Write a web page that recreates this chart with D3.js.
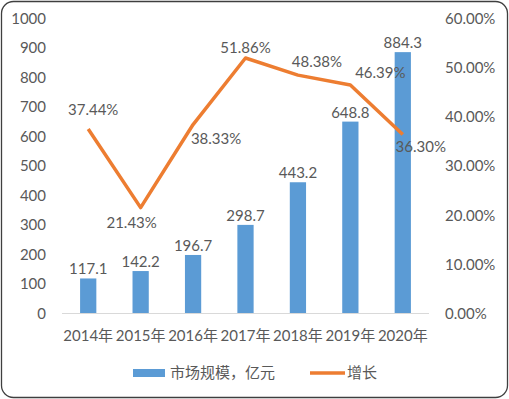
<!DOCTYPE html>
<html>
<head>
<meta charset="utf-8">
<script src="https://cdn.jsdelivr.net/npm/d3@7"></script>
<style>
  body { margin: 0; background: #fff; }
  svg text { font-family: Lato, "Noto Sans CJK SC", sans-serif; fill: #595959; }
</style>
</head>
<body>
<script>
// chart data
var years = ["2014年", "2015年", "2016年", "2017年", "2018年", "2019年", "2020年"];
var marketSize = [117.1, 142.2, 196.7, 298.7, 443.2, 648.8, 884.3];
var growth = [0.3744, 0.2143, 0.3833, 0.5186, 0.4838, 0.4639, 0.3630];
var leftTicks = [0, 100, 200, 300, 400, 500, 600, 700, 800, 900, 1000];
var rightTicks = [0, 0.1, 0.2, 0.3, 0.4, 0.5, 0.6];
var seriesNames = ["市场规模，亿元", "增长"];

// where each growth label sits relative to its point
var growthLabelOffset = [[5, -14], [-9, 20], [23, 19], [0, -5], [19, -8], [30, -7], [18, 17]];

var W = 509, H = 399;
var plot = {left: 62, right: 429, top: 18, bottom: 313};

var svg = d3.select("body").append("svg")
    .attr("width", W)
    .attr("height", H);

// outer frame
svg.append("rect")
    .attr("x", 1.5).attr("y", 1.5)
    .attr("width", W - 3).attr("height", H - 3)
    .attr("rx", 12)
    .attr("fill", "#fff")
    .attr("stroke", "#3f3f3f")
    .attr("stroke-width", 1.3);

//Define Scales
var xScale = d3.scaleBand()
    .domain(years)
    .range([plot.left, plot.right])
    .paddingInner(0.69)
    .paddingOuter(0.345);

var yLeft = d3.scaleLinear().domain([0, 1000]).range([plot.bottom, plot.top]);
var yRight = d3.scaleLinear().domain([0, 0.6]).range([plot.bottom, plot.top]);

//Define Axis
var leftAxis = d3.axisLeft(yLeft).tickValues(leftTicks).tickSize(0).tickPadding(0)
    .tickFormat(d3.format("d"));
var rightAxis = d3.axisRight(yRight).tickValues(rightTicks).tickSize(0).tickPadding(0)
    .tickFormat(function(d) { return (d * 100).toFixed(2) + "%"; });
var xAxis = d3.axisBottom(xScale).tickSize(0).tickPadding(0);

var gL = svg.append("g")
    .attr("transform", "translate(46,0)")
    .call(leftAxis);
var gR = svg.append("g")
    .attr("transform", "translate(445,0)")
    .call(rightAxis);
[gL, gR].forEach(function(g) {
    g.select(".domain").remove();
    g.selectAll("text")
        .attr("font-size", "15px")
        .attr("font-family", null)
        .attr("fill", "#595959")
        .attr("dy", "0.36em");
});

var gX = svg.append("g")
    .attr("transform", "translate(0," + plot.bottom + ")")
    .call(xAxis);
gX.select(".domain").remove();
gX.selectAll("text")
    .attr("font-size", "15px")
    .attr("font-family", null)
    .attr("fill", "#595959")
    .attr("dy", null)
    .attr("y", 28);

// baseline
svg.append("line")
    .attr("x1", plot.left).attr("x2", plot.right)
    .attr("y1", plot.bottom + 0.5).attr("y2", plot.bottom + 0.5)
    .attr("stroke", "#d9d9d9")
    .attr("stroke-width", 1);

//Draw bars
svg.selectAll(".bar")
    .data(marketSize)
    .enter().append("rect")
    .attr("class", "bar")
    .attr("x", function(d, i) { return xScale(years[i]); })
    .attr("width", xScale.bandwidth())
    .attr("y", function(d) { return yLeft(d); })
    .attr("height", function(d) { return plot.bottom - yLeft(d); })
    .attr("fill", "#5b9bd5");

svg.selectAll(".barLabel")
    .data(marketSize)
    .enter().append("text")
    .attr("class", "barLabel")
    .attr("x", function(d, i) { return xScale(years[i]) + xScale.bandwidth() / 2; })
    .attr("y", function(d) { return yLeft(d) - 4; })
    .attr("text-anchor", "middle")
    .attr("font-size", "15px")
    .text(function(d) { return d.toFixed(1); });

//Draw growth line
var cx = function(i) { return xScale(years[i]) + xScale.bandwidth() / 2; };
var line = d3.line()
    .x(function(d, i) { return cx(i); })
    .y(function(d) { return yRight(d); });

svg.append("path")
    .datum(growth)
    .attr("d", line)
    .attr("fill", "none")
    .attr("stroke", "#ed7d31")
    .attr("stroke-width", 3.5)
    .attr("stroke-linejoin", "round");

svg.selectAll(".growthLabel")
    .data(growth)
    .enter().append("text")
    .attr("class", "growthLabel")
    .attr("x", function(d, i) { return cx(i) + growthLabelOffset[i][0]; })
    .attr("y", function(d, i) { return yRight(d) + growthLabelOffset[i][1]; })
    .attr("text-anchor", "middle")
    .attr("font-size", "15px")
    .text(function(d) { return (d * 100).toFixed(2) + "%"; });

// legend
var legend = svg.append("g").attr("transform", "translate(0,373)");
legend.append("rect")
    .attr("x", 133).attr("y", -4)
    .attr("width", 32).attr("height", 8)
    .attr("fill", "#5b9bd5");
legend.append("text")
    .attr("x", 170).attr("y", 0).attr("dy", "0.36em")
    .attr("font-size", "15px")
    .text(seriesNames[0]);
legend.append("line")
    .attr("x1", 310).attr("x2", 345)
    .attr("y1", 0).attr("y2", 0)
    .attr("stroke", "#ed7d31")
    .attr("stroke-width", 3.5);
legend.append("text")
    .attr("x", 347).attr("y", 0).attr("dy", "0.36em")
    .attr("font-size", "15px")
    .text(seriesNames[1]);
</script>
</body>
</html>
